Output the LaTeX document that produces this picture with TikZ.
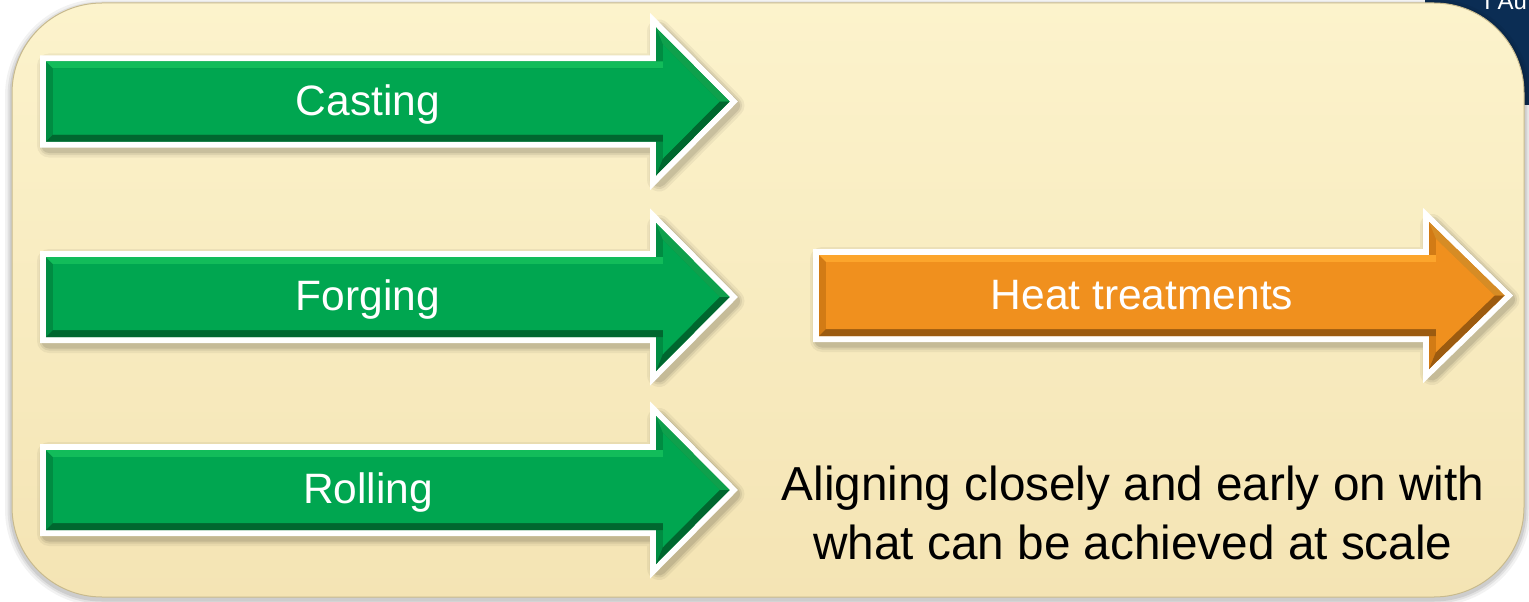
\documentclass[tikz,border=0pt]{standalone}
\usepackage{fontspec}
\setmainfont{Liberation Sans}
\definecolor{navybg}{HTML}{0B2D54}
\definecolor{panelTop}{HTML}{FCF3CC}
\definecolor{panelBot}{HTML}{F4E4B4}
\definecolor{panelEdge}{HTML}{C8BA8E}
\definecolor{greenMain}{HTML}{00A650}
\definecolor{greenSide}{HTML}{008C42}
\definecolor{greenTop}{HTML}{12BC5A}
\definecolor{greenBot}{HTML}{00672F}
\definecolor{orangeMain}{HTML}{F0901E}
\definecolor{orangeSide}{HTML}{D27B15}
\definecolor{orangeTop}{HTML}{FCA52C}
\definecolor{orangeBot}{HTML}{9C5B10}
% #1 left, #2 centre y, #3 shaft half height, #4 head back x, #5 head half height, #6 tip x, #7 colour prefix
\newcommand\procarrow[7]{%
  \foreach \w/\o in {24/0.05,19/0.07,15/0.09}{%
    \draw[black, draw opacity=\o, line width=\w, line join=round, shift={(3,4)}]
      (#1,#2-#3) -- (#4,#2-#3) -- (#4,#2-#5) -- (#6,#2) -- (#4,#2+#5) -- (#4,#2+#3) -- (#1,#2+#3) -- cycle;}
  \draw[white, line width=12, line join=miter]
      (#1,#2-#3) -- (#4,#2-#3) -- (#4,#2-#5) -- (#6,#2) -- (#4,#2+#5) -- (#4,#2+#3) -- (#1,#2+#3) -- cycle;
  \fill[#7Side]
      (#1,#2-#3) -- (#4,#2-#3) -- (#4,#2-#5) -- (#6,#2) -- (#4,#2+#5) -- (#4,#2+#3) -- (#1,#2+#3) -- cycle;
  \fill[#7Top] (#1,#2-#3) -- (#4+7,#2-#3) -- (#4+7,#2-#3+7) -- (#1+7,#2-#3+7) -- cycle;
  \fill[#7Top!85!black] (#4,#2-#5) -- (#6,#2) -- (#6-10,#2) -- (#4+7,#2-#5+17) -- cycle;
  \fill[#7Bot] (#1,#2+#3) -- (#4+7,#2+#3) -- (#4+7,#2+#3-7) -- (#1+7,#2+#3-7) -- cycle;
  \fill[#7Bot] (#4,#2+#5) -- (#6,#2) -- (#6-10,#2) -- (#4+7,#2+#5-17) -- cycle;
  \fill[#7Main]
      (#1+7,#2-#3+7) -- (#4+7,#2-#3+7) -- (#4+7,#2-#5+17) -- (#6-10,#2) -- (#4+7,#2+#5-17) -- (#4+7,#2+#3-7) -- (#1+7,#2+#3-7) -- cycle;
}
\begin{document}
\begin{tikzpicture}[x=1pt,y=-1pt,
  arrowtext/.style={text=white, font=\fontsize{42.5}{50}\selectfont, inner sep=0pt, anchor=base},
  bodytext/.style={text=black, font=\fontsize{47.7}{58.5}\selectfont, align=center, inner sep=0pt}]
\useasboundingbox (0,0) rectangle (1529,602);
% slide background peeking out at top right
\fill[navybg] (1425,0) rectangle (1529,105);
\begin{scope}
  \clip (1425,0) rectangle (1529,105);
  \node[anchor=base west, text=white, font=\fontsize{24}{28}\selectfont, inner sep=0pt] (au) at (1484,9.5) {I Au};
\end{scope}
% panel shadow
\foreach \w/\o in {14/0.05,9/0.07,5/0.09}{%
  \draw[black, draw opacity=\o, line width=\w, rounded corners=90] (12,6) rectangle (1524,599);}
% panel
\path[rounded corners=90, top color=panelTop, bottom color=panelBot, draw=panelEdge, line width=1] (12,3) rectangle (1524,597);
% arrows
\procarrow{46}{101.5}{40}{656}{74}{729.5}{green}
\procarrow{46}{297}{40}{656}{74}{729.5}{green}
\procarrow{46}{490}{40}{656}{74}{729.5}{green}
\procarrow{819}{295.5}{40.5}{1429}{73.5}{1504.5}{orange}
% labels
\node[arrowtext] (casting) at (368,115) {Casting};
\node[arrowtext] (forging) at (368,310.5) {Forging};
\node[arrowtext] (rolling) at (368,503.5) {Rolling};
\node[arrowtext] (heat) at (1142,309) {Heat treatments};
\node[bodytext] (align) at (1133,513) {Aligning closely and early on with\\what can be achieved at scale};
\end{tikzpicture}
\end{document}
